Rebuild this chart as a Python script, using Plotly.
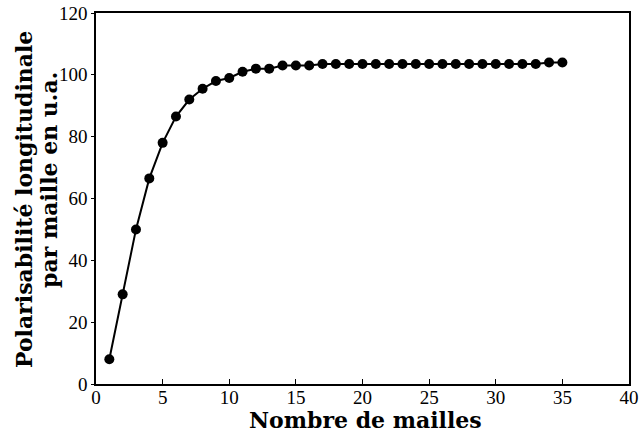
import plotly.graph_objects as go

mailles = list(range(1, 36))
polarisabilite = [8, 29, 50, 66.5, 78, 86.5, 92, 95.5, 98, 99,
                  101, 102, 102, 103, 103, 103, 103.5, 103.5, 103.5, 103.5,
                  103.5, 103.5, 103.5, 103.5, 103.5, 103.5, 103.5, 103.5, 103.5, 103.5,
                  103.5, 103.5, 103.5, 104, 104]

fig = go.Figure()
fig.add_trace(go.Scatter(
    x=mailles, y=polarisabilite, mode="lines+markers",
    line=dict(color="black", width=2),
    marker=dict(color="black", size=10),
    showlegend=False,
))

axis_font = dict(family="Liberation Serif, Times New Roman, serif", size=19, color="black")
title_font = dict(family="DejaVu Serif, serif", size=22, color="black")
fig.update_layout(
    width=641, height=435,
    margin=dict(l=96, r=12, t=13, b=51),
    paper_bgcolor="white", plot_bgcolor="white",
    font=axis_font,
)
fig.update_xaxes(
    range=[0, 40], tickvals=[0, 5, 10, 15, 20, 25, 30, 35, 40],
    ticks="inside", ticklen=5, tickcolor="black", tickwidth=1,
    showline=True, linecolor="black", linewidth=1.5, mirror=True,
    showgrid=False, zeroline=False, tickfont=axis_font, ticklabelstandoff=-5,
    automargin=False,
)
fig.update_yaxes(
    range=[0, 120], tickvals=[0, 20, 40, 60, 80, 100, 120],
    ticks="outside", ticklen=3, tickcolor="black", tickwidth=1,
    showline=True, linecolor="black", linewidth=1.5, mirror=True,
    showgrid=False, zeroline=False, tickfont=axis_font,
    automargin=False,
)
fig.add_annotation(
    text="<b>Nombre de mailles</b>", xref="paper", yref="paper",
    x=0.505, y=-0.097, xanchor="center", yanchor="middle", showarrow=False,
    font=title_font,
)
fig.add_annotation(
    text="<b>Polarisabilité longitudinale</b>", xref="paper", yref="paper",
    x=-0.135, y=0.496, xanchor="center", yanchor="middle", showarrow=False, textangle=-90,
    font=title_font,
)
fig.add_annotation(
    text="<b>par maille en u.a.</b>", xref="paper", yref="paper",
    x=-0.0882, y=0.550, xanchor="center", yanchor="middle", showarrow=False, textangle=-90,
    font=title_font,
)
fig.write_html("out.html")
